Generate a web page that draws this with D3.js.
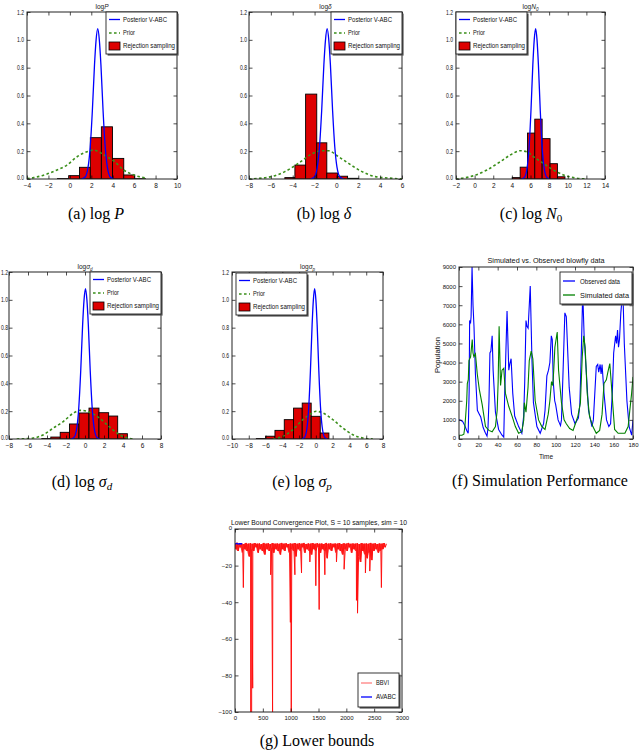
<!DOCTYPE html>
<html><head><meta charset="utf-8">
<script src="https://cdn.jsdelivr.net/npm/d3@7"></script>
<style>body{margin:0;background:#fff}svg{display:block}</style>
</head><body>
<svg id="c" width="640" height="753"></svg>
<script>
// ---------------- DATA ----------------
const histTicksY = [0,0.2,0.4,0.6,0.8,1.0,1.2];
// posterior V-ABC density shape (same peak in all panels)
const postY = [0.001,0.012,0.086,0.23,0.49,0.82,1.0,1.08,1.0,0.82,0.49,0.23,0.086,0.012,0.001];

// (a) log P
const ticksA = [-4,-2,0,2,4,6,8,10];
const histA = [[-1.15,-0.11,0.003],[-0.11,0.9,0.024],[0.9,1.91,0.084],[1.91,2.94,0.297],[2.94,3.98,0.375],[3.98,5.03,0.148],[5.03,6.05,0.029],[6.05,7.05,0.002]];
const priorA = [[-4,0.004],[-3.38,0.01],[-2.13,0.036],[-1.2,0.065],[-0.27,0.1],[0.67,0.16],[1.6,0.196],[2.22,0.208],[2.85,0.189],[3.47,0.16],[4.09,0.13],[5.02,0.065],[5.96,0.029],[7.2,0.005]];
const postXA = [1.1,1.4,1.7,1.9,2.1,2.3,2.45,2.6,2.75,2.9,3.1,3.3,3.5,3.8,4.1];

// (b) log delta
const ticksB = [-8,-6,-4,-2,0,2,4,6];
const histB = [[-4.72,-3.8,0.01],[-3.8,-2.82,0.10],[-2.82,-1.8,0.61],[-1.8,-0.88,0.26],[-0.88,0.1,0.043],[0.1,1.02,0.02],[1.02,2.03,0.005]];
const priorB = [[-8,0.0],[-5.94,0.017],[-4.72,0.053],[-3.49,0.112],[-2.26,0.18],[-1.34,0.203],[-0.73,0.203],[0.19,0.16],[1.11,0.112],[2.34,0.053],[3.56,0.017],[5.1,0.005],[6,0.0]];
const postXB = [-2.35,-2.05,-1.75,-1.55,-1.35,-1.15,-1.0,-0.85,-0.7,-0.55,-0.35,-0.15,0.05,0.35,0.65];

// (c) log N0
const ticksC = [-2,0,2,4,6,8,10,12,14];
const histC = [[4.04,4.89,0.01],[4.89,5.68,0.085],[5.68,6.46,0.33],[6.46,7.25,0.43],[7.25,8.1,0.29],[8.1,8.89,0.11],[8.89,9.7,0.016]];
const priorC = [[-2,0.0],[-0.1,0.024],[1.32,0.065],[2.75,0.124],[3.82,0.172],[4.89,0.203],[5.6,0.196],[6.32,0.16],[7.39,0.112],[8.46,0.065],[9.54,0.029],[10.6,0.01],[12,0.0]];
const postXC = [5.05,5.35,5.65,5.85,6.05,6.25,6.4,6.55,6.7,6.85,7.05,7.25,7.45,7.75,8.05];

// (d) log sigma_d
const ticksD = [-8,-6,-4,-2,0,2,4,6,8];
const histD = [[-4.55,-3.6,0.003],[-3.6,-2.61,0.014],[-2.61,-1.63,0.048],[-1.63,-0.64,0.108],[-0.64,0.42,0.187],[0.42,1.47,0.222],[1.47,2.49,0.189],[2.49,3.44,0.165],[3.44,4.46,0.038]];
const priorD = [[-7.19,0.0],[-5.43,0.007],[-4.37,0.031],[-3.32,0.079],[-2.26,0.127],[-1.2,0.187],[-0.5,0.206],[0.2,0.199],[1.26,0.163],[2.32,0.103],[3.37,0.043],[4.43,0.007],[5.13,0.0]];
const postXD = [-1.45,-1.15,-0.85,-0.65,-0.45,-0.25,-0.1,0.05,0.2,0.35,0.55,0.75,0.95,1.25,1.55];

// (e) log sigma_p
const ticksE = [-10,-8,-6,-4,-2,0,2,4,6,8];
const histE = [[-7.1,-5.99,0.003],[-5.99,-4.88,0.02],[-4.88,-3.77,0.062],[-3.77,-2.66,0.139],[-2.66,-1.63,0.222],[-1.63,-0.56,0.258],[-0.56,0.52,0.163],[0.52,1.55,0.043]];
const priorE = [[-5.12,0.0],[-3.93,0.019],[-2.74,0.067],[-1.55,0.139],[-0.75,0.175],[0.04,0.199],[0.83,0.187],[2.02,0.139],[3.21,0.079],[4.4,0.031],[5.6,0.007],[6.79,0.0]];
const postXE = [-1.65,-1.35,-1.05,-0.85,-0.65,-0.45,-0.3,-0.15,0,0.15,0.35,0.55,0.75,1.05,1.35];

// (f) blowfly data: [time, population]
const ticksFX = [0,20,40,60,80,100,120,140,160,180];
const ticksFY = [0,1000,2000,3000,4000,5000,6000,7000,8000,9000];
const observed = [[0,1000],[2,980],[4,900],[6,700],[8,450],[9.5,300],[10.5,2500],[11,6200],[12,6100],[12.5,6400],[13.5,9000],[14.5,7000],[15.5,5900],[17,3400],[19,1500],[21,1300],[22.5,1150],[25,600],[27,350],[29,150],[30,600],[31,2000],[32,4500],[33,4600],[34.3,5400],[35.3,3600],[37.7,1400],[41,500],[44.5,200],[46.3,100],[47.3,2400],[49.7,6700],[51.5,3600],[52.5,3900],[53.9,4200],[55.6,2400],[57.6,1200],[61.7,650],[65,300],[66.9,1200],[68,3000],[69.3,6200],[70.3,5900],[71.5,5800],[73.7,8000],[75.5,4100],[77,1900],[80.6,650],[84,300],[87.5,800],[89,1500],[90.9,3300],[92.6,3600],[94,4000],[95.5,5400],[96.5,5200],[97.5,3000],[99,2000],[100,1800],[102.5,1000],[105,700],[106,1000],[107.5,3300],[109.5,6600],[111,6400],[114,2700],[116.5,1300],[120,800],[123.5,1100],[125,1800],[126.5,4500],[128,7700],[129.5,5300],[131.6,3600],[134,1500],[137.5,650],[139,1000],[142,3800],[143.5,3900],[144.5,3500],[146,3900],[147,3400],[148,3900],[150,2400],[152.6,1000],[155,650],[156.8,800],[158.6,2400],[160,4500],[162,5400],[163,5000],[164,5700],[165,4800],[166,5200],[167.4,6600],[169.5,7800],[171,5000],[173.7,2000],[176,650],[178.6,200],[180,1000]];
const simulated = [[0,200],[3,200],[5,250],[6,600],[6.9,1200],[8,2000],[8.6,2900],[9.6,3100],[10.3,4100],[12,4300],[13.7,5200],[14.5,4500],[15.4,4300],[17,4450],[18.9,3400],[21,2600],[24,1800],[27.4,650],[30.9,450],[34.3,380],[37.7,650],[39.5,1500],[40.5,3000],[41.5,5900],[43,2800],[44.5,3600],[46.3,3700],[48,2400],[51.5,1700],[54.9,1200],[58.3,650],[61.7,300],[65,380],[67,1000],[67.6,1900],[69.3,1400],[71.4,2700],[72.7,4100],[74.7,4600],[76.4,4200],[78.8,2000],[82.3,1000],[85.7,650],[89,500],[92.3,1300],[94,2000],[95.7,3000],[97,2800],[98,3600],[99.2,4800],[101.6,5600],[103,3600],[106,1900],[108.7,1000],[111,800],[114.5,550],[118,450],[120.4,800],[123,1200],[125.6,1900],[127.5,4300],[129,5400],[130.5,4800],[132.6,2400],[135,1200],[138.5,650],[142,300],[145.5,450],[148,1300],[150,2900],[152.4,3100],[154,3500],[156,3950],[157.7,2800],[159.5,1500],[161,500],[164.6,300],[171.6,300],[175,650],[176.7,1500],[178.6,2400],[180,3250]];

// (g) lower bounds
const ticksGX = [0,500,1000,1500,2000,2500,3000];
const ticksGY = [0,-20,-40,-60,-80,-100];
const bbviIterStep = 20;
const bbviBand = [
-8,-11,-7.5,-12,-8,-10,-7.8,-13,-8.2,-11,
-7.6,-12,-8,-15,-7.8,-11,-8.1,-12,-7.7,-10,
-8,-13,-7.9,-11,-8.3,-12,-7.6,-14,-8,-11,
-7.8,-12,-8.2,-10,-7.7,-13,-8,-11,-7.9,-12,
-8.1,-14,-7.6,-11,-8,-12,-7.8,-10,-8.2,-13,
-7.9,-11,-8,-12,-7.7,-15,-8.1,-11,-7.8,-12,
-8,-10,-7.6,-13,-8.2,-11,-7.9,-12,-8,-14,
-7.7,-11,-8.1,-12,-7.8,-10,-8,-13,-7.9,-11,
-8.2,-12,-7.6,-16,-8,-11,-7.8,-12,-8.1,-10,
-7.9,-13,-8,-11,-7.7,-12,-8.2,-14,-7.8,-11,
-8,-12,-7.6,-10,-8.1,-13,-7.9,-11,-8,-12,
-7.8,-15,-8.2,-18,-7.7,-12,-8,-14,-7.9,-16,
-8.1,-13,-7.6,-17,-8,-12,-7.8,-11,-8.2,-13,
-7.9,-12,-8,-11,-7.7,-10,-8.1];
const bbviSpikes = [[150,-32],[281,-100],[299,-100],[318,-87],[641,-25],[675,-100],[995,-51],[1011,-100],[1076,-25],[1195,-24],[1345,-18],[1452,-31],[1512,-44],[1614,-25],[1823,-18],[1960,-22],[2182,-39],[2201,-46],[2343,-24],[2421,-23],[2462,-17],[2630,-32]];
const avabc = [[0,-8.3],[30,-7.9],[60,-8.2],[90,-8.0],[130,-8.1]];

// ---------------- DRAW ----------------
const svg = d3.select('#c');
svg.append('rect').attr('width',640).attr('height',753).attr('fill','#fff');
const SANS = 'Liberation Sans, Arial, sans-serif';
const SERIF = 'Liberation Serif, Times New Roman, serif';
let clipId = 0;

function axesFrame(g, x, y, xt, yt, fx, fy, fs, ypad) {
  const [x0,x1] = x.range(), [y0,y1] = y.range();
  const tl = 3.5;
  const style = a => {
    a.select('.domain').remove();
    a.selectAll('line').attr('stroke','#000').attr('stroke-width',0.7);
    a.selectAll('text').attr('fill','#111').style('font-size',fs+'px').style('font-family',SANS);
  };
  g.append('g').attr('transform',`translate(0,${y0})`)
    .call(d3.axisBottom(x).tickValues(xt).tickSizeInner(-tl).tickSizeOuter(0).tickPadding(4).tickFormat(fx)).call(style);
  g.append('g').attr('transform',`translate(0,${y1})`)
    .call(d3.axisTop(x).tickValues(xt).tickSizeInner(-tl).tickSizeOuter(0).tickFormat('')).call(style);
  const left = g.append('g').attr('transform',`translate(${x0},0)`)
    .call(d3.axisLeft(y).tickValues(yt).tickSizeInner(-tl).tickSizeOuter(0).tickPadding(ypad==null?3:ypad).tickFormat(fy)).call(style);
  // keep the lowest y label clear of the first x label
  left.selectAll('.tick').filter((d,i)=>i===0).select('text').attr('dy','0.1em');
  g.append('g').attr('transform',`translate(${x1},0)`)
    .call(d3.axisRight(y).tickValues(yt).tickSizeInner(-tl).tickSizeOuter(0).tickFormat('')).call(style);
  g.append('rect').attr('x',x0).attr('y',y1).attr('width',x1-x0).attr('height',y0-y1)
    .attr('fill','none').attr('stroke','#222').attr('stroke-width',1);
  return left;
}

function makeClip(x, y) {
  const id = 'clip' + (clipId++);
  const [x0,x1] = x.range(), [y0,y1] = y.range();
  svg.append('clipPath').attr('id',id).append('rect')
    .attr('x',x0).attr('y',y1).attr('width',x1-x0).attr('height',y0-y1);
  return `url(#${id})`;
}

function legendBox(g, bx, by, bw, bh) {
  g.append('rect').attr('x',bx+1.6).attr('y',by+1.6).attr('width',bw).attr('height',bh).attr('fill','#555');
  g.append('rect').attr('x',bx).attr('y',by).attr('width',bw).attr('height',bh)
    .attr('fill','#fff').attr('stroke','#222').attr('stroke-width',0.9);
}
function legText(g, x, y, t, len, fs) {
  g.append('text').attr('x',x).attr('y',y).attr('dy','0.35em').text(t)
    .attr('textLength',len).attr('lengthAdjust','spacingAndGlyphs')
    .style('font-size',(fs||7)+'px').style('font-family',SANS).attr('fill','#111');
}

function histPanel(c) {
  const g = svg.append('g');
  const x = d3.scaleLinear().domain(c.xd).range([c.l, c.r]);
  const y = d3.scaleLinear().domain([0,1.2]).range([c.b, c.t]);
  const clip = makeClip(x, y);
  const pg = g.append('g').attr('clip-path', clip);
  pg.selectAll('rect.bar').data(c.hist).join('rect').attr('class','bar')
    .attr('x',d=>x(d[0])).attr('width',d=>x(d[1])-x(d[0]))
    .attr('y',d=>y(d[2])).attr('height',d=>y(0)-y(d[2]))
    .attr('fill','#dd0000').attr('stroke','#000').attr('stroke-width',0.9);
  const line = d3.line().x(d=>x(d[0])).y(d=>y(d[1])).curve(d3.curveMonotoneX);
  pg.append('path').attr('d',line(c.prior)).attr('fill','none')
    .attr('stroke','#3a8f1a').attr('stroke-width',1.6).attr('stroke-dasharray','2.6,2.4');
  const post = c.postX.map((v,i)=>[v, postY[i]]);
  pg.append('path').attr('d',line(post)).attr('fill','none')
    .attr('stroke','#0000ff').attr('stroke-width',1.3);
  const left = axesFrame(g, x, y, c.xt, histTicksY, d3.format('d'), d3.format('.1f'), 6.5, c.ypad);
  left.selectAll('text').attr('textLength',7).attr('lengthAdjust','spacingAndGlyphs');
  // title
  const tt = g.append('text').attr('x',(c.l+c.r)/2).attr('y',c.t-3).attr('text-anchor','middle')
    .style('font-size','6.5px').style('font-family',SANS).attr('fill','#222');
  tt.append('tspan').text('log');
  tt.append('tspan').text(c.sym).style('font-style','italic');
  if (c.sub) tt.append('tspan').text(c.sub).attr('dy',1.5).style('font-size','4.5px').style('font-style','italic');
  // legend
  const bw = 71, bh = 42;
  const bx = c.legLeft ? c.l + c.legOff : c.r - bw + c.legOff;
  const by = c.t + c.legTop;
  legendBox(g, bx, by, bw, bh);
  g.append('line').attr('x1',bx+3).attr('x2',bx+14).attr('y1',by+7.5).attr('y2',by+7.5)
    .attr('stroke','#0000ff').attr('stroke-width',1.3);
  g.append('line').attr('x1',bx+3).attr('x2',bx+14).attr('y1',by+21).attr('y2',by+21)
    .attr('stroke','#3a8f1a').attr('stroke-width',1.6).attr('stroke-dasharray','2.6,2.4');
  g.append('rect').attr('x',bx+3).attr('y',by+30).attr('width',11).attr('height',8)
    .attr('fill','#dd0000').attr('stroke','#000').attr('stroke-width',0.8);
  legText(g, bx+17, by+7.5, 'Posterior V-ABC', 44);
  legText(g, bx+17, by+21, 'Prior', 12);
  legText(g, bx+17, by+34, 'Rejection sampling', 52);
}

histPanel({l:27,r:177,t:12,b:179,xd:[-4,10],xt:ticksA,hist:histA,prior:priorA,postX:postXA,sym:'P',legLeft:false,legOff:0,legTop:0});
histPanel({l:249,r:402,t:12,b:179,xd:[-8,6],xt:ticksB,hist:histB,prior:priorB,postX:postXB,sym:'δ',legLeft:false,legOff:0,legTop:0,ypad:2});
histPanel({l:456,r:605,t:12,b:179,xd:[-2,14],xt:ticksC,hist:histC,prior:priorC,postX:postXC,sym:'N',sub:'0',legLeft:true,legOff:0,legTop:0});
histPanel({l:9,r:161,t:272,b:439,xd:[-8,8],xt:ticksD,hist:histD,prior:priorD,postX:postXD,sym:'σ',sub:'d',legLeft:false,legOff:0,legTop:0,ypad:1});
histPanel({l:232,r:383,t:272,b:439,xd:[-10,8],xt:ticksE,hist:histE,prior:priorE,postX:postXE,sym:'σ',sub:'p',legLeft:true,legOff:4,legTop:1});

// ---- (f) blowfly ----
{
  const g = svg.append('g');
  const x = d3.scaleLinear().domain([0,180]).range([459,633]);
  const y = d3.scaleLinear().domain([0,9000]).range([439,267]);
  const clip = makeClip(x, y);
  const pg = g.append('g').attr('clip-path', clip);
  const line = d3.line().x(d=>x(d[0])).y(d=>y(d[1]));
  pg.append('path').attr('d',line(observed)).attr('fill','none').attr('stroke','#0000ff').attr('stroke-width',1.1);
  pg.append('path').attr('d',line(simulated)).attr('fill','none').attr('stroke','#008000').attr('stroke-width',1.1);
  axesFrame(g, x, y, ticksFX, ticksFY, d3.format('d'), d3.format('d'), 6);
  g.append('text').attr('x',546).attr('y',263).attr('text-anchor','middle').text('Simulated vs. Observed blowfly data')
    .attr('textLength',117).attr('lengthAdjust','spacingAndGlyphs')
    .style('font-size','8px').style('font-family',SANS).attr('fill','#111');
  g.append('text').attr('transform','translate(439.5,355) rotate(-90)').attr('text-anchor','middle').text('Population')
    .attr('textLength',36).attr('lengthAdjust','spacingAndGlyphs')
    .style('font-size','6.5px').style('font-family',SANS).attr('fill','#111');
  g.append('text').attr('x',546).attr('y',459).attr('text-anchor','middle').text('Time')
    .style('font-size','6.5px').style('font-family',SANS).attr('fill','#111');
  const bx = 560, by = 272;
  legendBox(g, bx, by, 72, 32);
  g.append('line').attr('x1',bx+3).attr('x2',bx+15).attr('y1',by+9).attr('y2',by+9).attr('stroke','#0000ff').attr('stroke-width',1.3);
  g.append('line').attr('x1',bx+3).attr('x2',bx+15).attr('y1',by+23).attr('y2',by+23).attr('stroke','#008000').attr('stroke-width',1.3);
  legText(g, bx+20, by+9, 'Observed data', 40, 7.5);
  legText(g, bx+20, by+23, 'Simulated data', 49, 7.5);
}

// ---- (g) lower bounds ----
{
  const g = svg.append('g');
  const x = d3.scaleLinear().domain([0,3000]).range([235,402]);
  const y = d3.scaleLinear().domain([-100,0]).range([712,529]);
  const clip = makeClip(x, y);
  const pg = g.append('g').attr('clip-path', clip);
  const bandPts = bbviBand.map((v,i)=>[i*bbviIterStep, v]);
  const pairs = d3.range(0, bandPts.length-1).map(i => {
    const a = bandPts[i], b = bandPts[i+1];
    return [a[0], Math.max(a[1], b[1]), Math.min(a[1], b[1])];
  });
  pg.append('path').attr('d', d3.area().x(d=>x(d[0])).y0(d=>y(d[2])).y1(d=>y(d[1]))(pairs))
    .attr('fill','#ff1010').attr('fill-opacity',0.85);
  const bbvi = bandPts.concat(bbviSpikes).sort((a,b)=>a[0]-b[0]);
  const line = d3.line().x(d=>x(d[0])).y(d=>y(d[1]));
  pg.append('path').attr('d',line(bbvi)).attr('fill','none').attr('stroke','#ff1010').attr('stroke-width',1);
  pg.append('path').attr('d',line(avabc)).attr('fill','none').attr('stroke','#0000ff').attr('stroke-width',1.3);
  axesFrame(g, x, y, ticksGX, ticksGY, d3.format('d'), d3.format('d'), 6);
  g.append('text').attr('x',319).attr('y',525).attr('text-anchor','middle').text('Lower Bound Convergence Plot, S = 10 samples, sim = 10')
    .attr('textLength',176).attr('lengthAdjust','spacingAndGlyphs')
    .style('font-size','7.5px').style('font-family',SANS).attr('fill','#111');
  const bx = 358, by = 673;
  legendBox(g, bx, by, 41, 34);
  g.append('line').attr('x1',bx+3).attr('x2',bx+14).attr('y1',by+10).attr('y2',by+10).attr('stroke','#ff8080').attr('stroke-width',1.3);
  g.append('line').attr('x1',bx+3).attr('x2',bx+14).attr('y1',by+24).attr('y2',by+24).attr('stroke','#0000ff').attr('stroke-width',1.3);
  legText(g, bx+18, by+10, 'BBVI', 13, 6.5);
  legText(g, bx+18, by+24, 'AVABC', 20, 6.5);
}

// ---- captions ----
function caption(cx, cy, parts) {
  const t = svg.append('text').attr('x',cx).attr('y',cy).attr('text-anchor','middle')
    .style('font-size','16px').style('font-family',SERIF).attr('fill','#000');
  parts.forEach(p => {
    const s = t.append('tspan').text(p.t);
    if (p.i) s.style('font-style','italic');
    if (p.sub) s.attr('dy',3).style('font-size','11px');
  });
}
caption(96, 219, [{t:'(a) log '},{t:'P',i:true}]);
caption(324, 219, [{t:'(b) log '},{t:'δ',i:true}]);
caption(531, 219, [{t:'(c) log '},{t:'N',i:true},{t:'0',sub:true}]);
caption(82, 487, [{t:'(d) log '},{t:'σ',i:true},{t:'d',sub:true,i:true}]);
caption(302, 487, [{t:'(e) log '},{t:'σ',i:true},{t:'p',sub:true,i:true}]);
caption(540, 486, [{t:'(f) Simulation Performance'}]);
caption(317, 746, [{t:'(g) Lower bounds'}]);
</script>
</body></html>
